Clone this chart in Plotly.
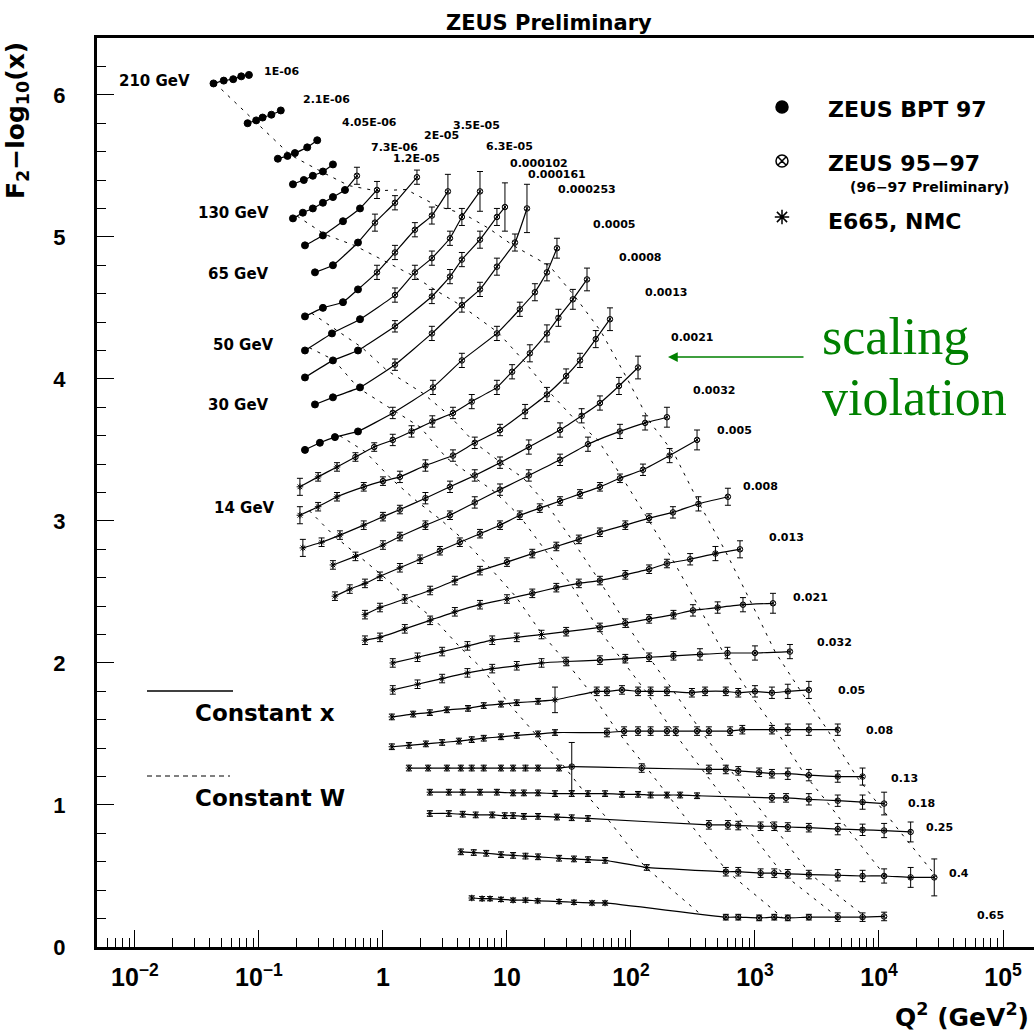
import numpy as np
import plotly.graph_objects as go

# ---------------- data ----------------
x_bins = ["1E-06", "2.1E-06", "4.05E-06", "7.3E-06", "1.2E-05", "2E-05", "3.5E-05",
          "6.3E-05", "0.000102", "0.000161", "0.000253", "0.0005", "0.0008", "0.0013",
          "0.0021", "0.0032", "0.005", "0.008", "0.013", "0.021", "0.032", "0.05",
          "0.08", "0.13", "0.18", "0.25", "0.4", "0.65"]

# B = ZEUS BPT 97, Z = ZEUS 95-97, E = E665/NMC ; e_* = error half-width
q2_b01 = [0.043, 0.052, 0.062, 0.072, 0.083]; y_b01 = [6.08, 6.10, 6.11, 6.13, 6.14]; s_b01 = "BBBBB"
q2_b02 = [0.081, 0.095, 0.107, 0.126, 0.150]; y_b02 = [5.80, 5.82, 5.84, 5.86, 5.89]; s_b02 = "BBBBB"
q2_b03 = [0.142, 0.170, 0.195, 0.245, 0.295]; y_b03 = [5.55, 5.57, 5.59, 5.63, 5.68]; s_b03 = "BBBBB"
q2_b04 = [0.188, 0.230, 0.272, 0.328, 0.395]; y_b04 = [5.37, 5.40, 5.43, 5.46, 5.51]; s_b04 = "BBBBB"
q2_b05 = [0.188, 0.226, 0.272, 0.328, 0.395, 0.494, 0.617]
y_b05 = [5.13, 5.17, 5.20, 5.24, 5.28, 5.33, 5.43]; s_b05 = "BBBBBBZ"
e_b05 = [0, 0, 0, 0, 0, 0, 0.06]
q2_b06 = [0.235, 0.328, 0.476, 0.653, 0.895]; y_b06 = [4.94, 5.01, 5.11, 5.20, 5.33]; s_b06 = "BBBBZ"
e_b06 = [0, 0, 0, 0, 0.06]
q2_b07 = [0.283, 0.395, 0.629, 0.862, 1.25, 1.88]; y_b07 = [4.75, 4.80, 4.96, 5.10, 5.24, 5.42]; s_b07 = "BBBZZZ"
e_b07 = [0, 0, 0, 0.06, 0.05, 0.05]
q2_b08 = [0.235, 0.328, 0.476, 0.629, 0.895, 1.25, 1.81, 2.48, 3.34]
y_b08 = [4.44, 4.50, 4.54, 4.63, 4.75, 4.89, 5.05, 5.15, 5.32]; s_b08 = "BBBBZZZZZ"
e_b08 = [0, 0, 0, 0, 0.05, 0.05, 0.05, 0.06, 0.12]
q2_b09 = [0.235, 0.388, 0.653, 1.25, 1.81, 2.48, 3.47, 4.33, 6.06]
y_b09 = [4.20, 4.32, 4.42, 4.59, 4.75, 4.85, 4.99, 5.14, 5.32]; s_b09 = "BBBZZZZZZ"
e_b09 = [0, 0, 0, 0.05, 0.05, 0.05, 0.05, 0.06, 0.14]
q2_b10 = [0.235, 0.395, 0.629, 1.25, 2.48, 3.47, 4.33, 6.06, 8.30, 9.63]
y_b10 = [4.01, 4.13, 4.20, 4.37, 4.58, 4.72, 4.84, 4.98, 5.14, 5.21]; s_b10 = "BBBZZZZZZZ"
e_b10 = [0, 0, 0, 0.04, 0.05, 0.05, 0.05, 0.06, 0.06, 0.17]
q2_b11 = [0.283, 0.395, 0.653, 1.25, 2.48, 4.33, 6.06, 8.30, 11.6, 14.5]
y_b11 = [3.82, 3.87, 3.94, 4.10, 4.32, 4.52, 4.63, 4.79, 4.96, 5.20]; s_b11 = "BBBZZZZZZZ"
e_b11 = [0, 0, 0, 0.04, 0.05, 0.05, 0.05, 0.06, 0.06, 0.17]
q2_b12 = [0.235, 0.31, 0.41, 0.629, 1.20, 2.53, 4.33, 8.30, 12.7, 16.8, 21.0, 25.3]
y_b12 = [3.50, 3.55, 3.59, 3.63, 3.76, 3.94, 4.13, 4.32, 4.49, 4.61, 4.75, 4.92]; s_b12 = "BBBBZZZZZZZZ"
e_b12 = [0, 0, 0, 0, 0.04, 0.05, 0.05, 0.05, 0.05, 0.06, 0.06, 0.07]
q2_b13 = [0.214, 0.30, 0.426, 0.60, 0.85, 1.20, 1.70, 2.50, 3.67, 5.20, 8.30, 11.0, 15.3, 21.0, 26.0, 34.0, 44.2]
y_b13 = [3.24, 3.31, 3.38, 3.45, 3.52, 3.57, 3.63, 3.70, 3.76, 3.84, 3.94, 4.05, 4.18, 4.32, 4.43, 4.56, 4.70]
s_b13 = "EEEZZZZZZZZZZZZZZ"
e_b13 = [0.06, 0.03, 0.03, 0.03, 0.03, 0.04, 0.04, 0.04, 0.04, 0.05, 0.05, 0.05, 0.06, 0.06, 0.06, 0.07, 0.08]
q2_b14 = [0.214, 0.30, 0.426, 0.70, 1.0, 1.37, 2.2, 3.67, 5.5, 8.79, 14, 21.0, 30, 38.8, 52, 67.7]
y_b14 = [3.04, 3.10, 3.17, 3.24, 3.28, 3.31, 3.39, 3.46, 3.55, 3.64, 3.77, 3.89, 4.02, 4.13, 4.28, 4.42]
s_b14 = "EEEZZZZZZZZZZZZZ"
e_b14 = [0.06, 0.03, 0.03, 0.03, 0.03, 0.04, 0.04, 0.04, 0.04, 0.04, 0.05, 0.05, 0.05, 0.05, 0.06, 0.08]
q2_b15 = [0.226, 0.32, 0.45, 0.70, 1.0, 1.37, 2.2, 3.47, 5.5, 8.79, 15, 26.8, 40, 56.2, 80, 114]
y_b15 = [2.81, 2.85, 2.90, 2.97, 3.03, 3.08, 3.16, 3.24, 3.32, 3.41, 3.52, 3.64, 3.74, 3.83, 3.95, 4.08]
s_b15 = "EEEEZZZZZZZZZZZZ"
e_b15 = [0.06, 0.03, 0.03, 0.03, 0.03, 0.03, 0.04, 0.04, 0.04, 0.04, 0.05, 0.05, 0.05, 0.05, 0.06, 0.08]
q2_b16 = [0.395, 0.6, 1.0, 1.37, 2.2, 3.47, 5.5, 8.79, 15, 26.8, 45, 81.5, 130, 195]
y_b16 = [2.69, 2.75, 2.83, 2.89, 2.97, 3.04, 3.13, 3.22, 3.32, 3.43, 3.54, 3.63, 3.69, 3.73]
s_b16 = "EEEZZZZZZZZZZZ"
e_b16 = [0.03, 0.03, 0.03, 0.03, 0.03, 0.03, 0.04, 0.04, 0.04, 0.04, 0.05, 0.05, 0.05, 0.07]
q2_b17 = [0.41, 0.54, 0.716, 0.946, 1.37, 1.99, 2.88, 4.17, 6.06, 8.79, 12.7, 18.4, 26.8, 38.8, 56.2, 81.5, 125, 205, 341]
y_b17 = [2.47, 2.52, 2.56, 2.61, 2.67, 2.73, 2.79, 2.85, 2.91, 2.97, 3.04, 3.09, 3.14, 3.19, 3.24, 3.30, 3.36, 3.46, 3.57]
s_b17 = "EEEEEEZZZZZZZZZZZZZ"
e_b17 = [0.03] * 16 + [0.04, 0.05, 0.07]
q2_b18 = [0.716, 0.946, 1.5, 2.4, 3.8, 6.06, 10, 16, 25, 38, 56.2, 90, 140, 218, 350, 605]
y_b18 = [2.34, 2.39, 2.45, 2.51, 2.58, 2.65, 2.71, 2.77, 2.82, 2.87, 2.92, 2.97, 3.02, 3.06, 3.12, 3.17]
s_b18 = "EEEEEEZZZZZZZZZZ"
e_b18 = [0.03] * 13 + [0.04, 0.05, 0.06]
q2_b19 = [0.716, 0.946, 1.5, 2.4, 3.8, 6.06, 10, 16, 25, 38, 56.2, 90, 140, 195, 300, 480, 757]
y_b19 = [2.16, 2.18, 2.24, 2.30, 2.36, 2.41, 2.45, 2.49, 2.53, 2.56, 2.58, 2.62, 2.66, 2.70, 2.73, 2.77, 2.80]
s_b19 = "EEEEEEEZZZZZZZZZZ"
e_b19 = [0.03] * 14 + [0.04, 0.05, 0.06]
q2_b20 = [1.20, 1.9, 3.0, 4.8, 7.6, 12, 19, 30, 56.2, 90, 140, 220, 316, 500, 800, 1397]
y_b20 = [2.00, 2.04, 2.08, 2.12, 2.16, 2.18, 2.20, 2.22, 2.25, 2.28, 2.31, 2.34, 2.37, 2.39, 2.41, 2.42]
s_b20 = "EEEEEEEZZZZZZZZZ"
e_b20 = [0.03] * 12 + [0.04, 0.04, 0.05, 0.07]
q2_b21 = [1.20, 1.9, 3.0, 4.8, 7.6, 12, 19, 30, 56.2, 90, 140, 220, 360, 600, 1000, 1914]
y_b21 = [1.81, 1.85, 1.89, 1.93, 1.96, 1.98, 2.00, 2.01, 2.02, 2.03, 2.04, 2.05, 2.06, 2.07, 2.07, 2.08]
s_b21 = "EEEEEEEZZZZZZZZZ"
e_b21 = [0.03] * 12 + [0.04, 0.04, 0.05, 0.05]
q2_b22 = [1.18, 1.75, 2.39, 3.28, 4.85, 6.5, 8.95, 12.0, 17.8, 24.4, 53, 64, 84.6, 114, 144,
          195, 310, 396, 582, 733, 1000, 1370, 1840, 2720]
y_b22 = [1.62, 1.64, 1.65, 1.67, 1.68, 1.70, 1.71, 1.72, 1.73, 1.74, 1.80, 1.80, 1.81, 1.80, 1.80,
         1.80, 1.79, 1.80, 1.80, 1.79, 1.80, 1.79, 1.80, 1.81]
s_b22 = "EEEEEEEEEEZZZZZZZZZZZZZZ"
e_b22 = [0.02] * 9 + [0.09] + [0.03] * 10 + [0.04, 0.04, 0.05, 0.06]
q2_b23 = [1.18, 1.62, 2.22, 3.0, 4.1, 5.2, 6.5, 8.95, 12.0, 17.8, 24.4, 64, 88, 114, 144, 195,
          230, 341, 425, 630, 790, 1370, 1840, 2720, 4650]
y_b23 = [1.41, 1.42, 1.43, 1.44, 1.45, 1.46, 1.47, 1.48, 1.49, 1.50, 1.51, 1.51, 1.52, 1.52, 1.52,
         1.52, 1.52, 1.52, 1.52, 1.52, 1.53, 1.53, 1.53, 1.53, 1.53]
s_b23 = "EEEEEEEEEEEZZZZZZZZZZZZZZ"
e_b23 = [0.02] * 11 + [0.03] * 10 + [0.03, 0.04, 0.04, 0.04]
q2_b24 = [1.62, 2.31, 3.28, 4.25, 5.2, 6.5, 8.95, 11.2, 14.1, 17.8, 26.3, 33.3, 122, 425, 582,
          733, 1080, 1370, 1840, 2720, 4650, 7370]
y_b24 = [1.26, 1.26, 1.26, 1.26, 1.26, 1.26, 1.26, 1.26, 1.26, 1.26, 1.26, 1.27, 1.26, 1.25, 1.25,
         1.24, 1.23, 1.22, 1.22, 1.21, 1.20, 1.20]
s_b24 = "EEEEEEEEEEEZZZZZZZZZZZ"
e_b24 = [0.02] * 11 + [0.17] + [0.03] * 6 + [0.04, 0.04, 0.04, 0.06]
q2_b25 = [2.39, 3.4, 4.4, 6.06, 8.3, 11.2, 13.7, 17.8, 24.4, 33.3, 45, 61.8, 84.6, 114, 144, 195,
          249, 341, 1370, 1780, 2720, 4650, 7370, 11000]
y_b25 = [1.09, 1.09, 1.09, 1.09, 1.09, 1.085, 1.085, 1.085, 1.08, 1.08, 1.08, 1.08, 1.075, 1.075,
         1.07, 1.07, 1.07, 1.065, 1.05, 1.05, 1.04, 1.03, 1.02, 1.01]
s_b25 = "EEEEEEEEEEEEEEEEEEZZZZZZ"
e_b25 = [0.02] * 18 + [0.03, 0.03, 0.04, 0.04, 0.05, 0.08]
q2_b26 = [2.39, 3.4, 4.4, 5.6, 7.6, 9.6, 11.2, 13.7, 17.8, 25.3, 33.3, 45, 425, 605, 733, 1110,
          1430, 1840, 2720, 4650, 7370, 11000, 18000]
y_b26 = [0.94, 0.94, 0.935, 0.93, 0.93, 0.925, 0.925, 0.92, 0.92, 0.915, 0.91, 0.905, 0.86, 0.86,
         0.855, 0.85, 0.85, 0.845, 0.84, 0.83, 0.825, 0.82, 0.81]
s_b26 = "EEEEEEEEEEEEZZZZZZZZZZZ"
e_b26 = [0.02] * 12 + [0.03] * 7 + [0.04, 0.04, 0.05, 0.07]
q2_b27 = [4.25, 5.4, 6.8, 8.95, 11.2, 14.1, 17.8, 26.3, 34.7, 45, 61.8, 134, 582, 733, 1110,
          1430, 1840, 2720, 4650, 7370, 11000, 18000, 27900]
y_b27 = [0.67, 0.665, 0.66, 0.65, 0.645, 0.64, 0.635, 0.625, 0.62, 0.615, 0.61, 0.56, 0.53, 0.53,
         0.52, 0.52, 0.515, 0.51, 0.505, 0.50, 0.50, 0.49, 0.49]
s_b27 = "EEEEEEEEEEEEZZZZZZZZZZZ"
e_b27 = [0.02] * 12 + [0.03] * 6 + [0.04, 0.04, 0.05, 0.07, 0.13]
q2_b28 = [5.2, 6.3, 7.3, 8.95, 11.2, 14.1, 17.7, 26.3, 34.7, 48.5, 61.8, 582, 733, 1080, 1430,
          1840, 2720, 4650, 7370, 11000]
y_b28 = [0.345, 0.34, 0.34, 0.335, 0.33, 0.33, 0.325, 0.32, 0.315, 0.31, 0.31, 0.21, 0.21, 0.205,
         0.21, 0.205, 0.21, 0.21, 0.21, 0.215]
s_b28 = "EEEEEEEEEEEZZZZZZZZZ"
e_b28 = [0.015] * 11 + [0.02] * 6 + [0.03, 0.03, 0.03]

# constant-W values (GeV) from the labels
w_values = [210, 130, 65, 50, 30, 14]

bins_q2 = [q2_b01, q2_b02, q2_b03, q2_b04, q2_b05, q2_b06, q2_b07, q2_b08, q2_b09, q2_b10,
           q2_b11, q2_b12, q2_b13, q2_b14, q2_b15, q2_b16, q2_b17, q2_b18, q2_b19, q2_b20,
           q2_b21, q2_b22, q2_b23, q2_b24, q2_b25, q2_b26, q2_b27, q2_b28]
bins_y = [y_b01, y_b02, y_b03, y_b04, y_b05, y_b06, y_b07, y_b08, y_b09, y_b10,
          y_b11, y_b12, y_b13, y_b14, y_b15, y_b16, y_b17, y_b18, y_b19, y_b20,
          y_b21, y_b22, y_b23, y_b24, y_b25, y_b26, y_b27, y_b28]
bins_s = [s_b01, s_b02, s_b03, s_b04, s_b05, s_b06, s_b07, s_b08, s_b09, s_b10,
          s_b11, s_b12, s_b13, s_b14, s_b15, s_b16, s_b17, s_b18, s_b19, s_b20,
          s_b21, s_b22, s_b23, s_b24, s_b25, s_b26, s_b27, s_b28]
bins_e = [[0] * 5, [0] * 5, [0] * 5, [0] * 5, e_b05, e_b06, e_b07, e_b08, e_b09, e_b10,
          e_b11, e_b12, e_b13, e_b14, e_b15, e_b16, e_b17, e_b18, e_b19, e_b20,
          e_b21, e_b22, e_b23, e_b24, e_b25, e_b26, e_b27, e_b28]

# ---------------- layout helpers (pixel -> paper) ----------------
PW, PH, L, T = 937, 909, 97, 38
def px(xp): return (xp - L) / PW
def py(yp): return (T + PH - yp) / PH

# text positions (pixel centres)
xlab_px = [(281, 72), (326, 99), (369, 122), (394, 148), (416, 158), (441, 135), (476, 125),
           (509, 147), (539, 163), (557, 175), (587, 190), (614, 224), (640, 257), (666, 293),
           (692, 337), (714, 390), (734, 430), (760, 486), (786, 537), (810, 597), (834, 642),
           (851, 690), (879, 730), (904, 778), (921, 803), (939, 827), (959, 873), (990, 915)]
wlab_px = [(154, 81), (233, 213), (238, 274), (243, 345), (238, 405), (244, 508)]

fig = go.Figure()
BLACK = "black"
SANS = "DejaVu Sans"

# constant-W dashed lines: where Q2 = x W^2/(1-x) meets each x-bin curve
for W in w_values:
    wx, wy = [], []
    for lab, q, yv in zip(x_bins, bins_q2, bins_y):
        xv = float(lab)
        q2w = xv * W * W / (1 - xv)
        lq = np.log10(q)
        if lq[0] - 0.03 <= np.log10(q2w) <= lq[-1] + 0.03:
            wx.append(q2w)
            wy.append(float(np.interp(np.log10(q2w), lq, yv)))
    fig.add_trace(go.Scatter(x=wx, y=wy, mode="lines",
                             line=dict(color=BLACK, width=1, dash="3px,6px")))

# constant-x curves
for q, yv in zip(bins_q2, bins_y):
    fig.add_trace(go.Scatter(x=q, y=yv, mode="lines",
                             line=dict(color=BLACK, width=1.2, shape="spline", smoothing=0.4)))

# data points
sym = {"B": "circle", "Z": "circle-x-open", "E": "asterisk-open"}
msize = {"B": 7, "Z": 5.5, "E": 5.5}
for q, yv, s, e in zip(bins_q2, bins_y, bins_s, bins_e):
    for k in "BZE":
        idx = [i for i, c in enumerate(s) if c == k]
        if not idx:
            continue
        fig.add_trace(go.Scatter(
            x=[q[i] for i in idx], y=[yv[i] for i in idx], mode="markers",
            marker=dict(symbol=sym[k], size=msize[k], color=BLACK,
                        line=dict(color=BLACK, width=1.0)),
            error_y=dict(type="data", array=[e[i] for i in idx], color=BLACK,
                         thickness=1.0, width=3, visible=(k != "B"))))

# ---------------- annotations ----------------
ann = []
for lab, (xp, yp) in zip(x_bins, xlab_px):
    ann.append(dict(x=px(xp), y=py(yp), xref="paper", yref="paper", text=lab, showarrow=False,
                    xanchor="center", yanchor="middle",
                    font=dict(family=SANS, size=11, color=BLACK, weight="bold")))
for W, (xp, yp) in zip(w_values, wlab_px):
    ann.append(dict(x=px(xp), y=py(yp), xref="paper", yref="paper", text=f"{W} GeV",
                    showarrow=False, xanchor="center", yanchor="middle",
                    font=dict(family=SANS, size=15, color=BLACK, weight="bold")))

def txt(xp, yp, text, size, xanchor="center", family=SANS, color=BLACK, weight="bold", angle=0):
    return dict(x=px(xp), y=py(yp), xref="paper", yref="paper", text=text, showarrow=False,
                xanchor=xanchor, yanchor="middle", textangle=angle,
                font=dict(family=family, size=size, color=color, weight=weight))

ann += [
    txt(549, 23, "ZEUS Preliminary", 21),
    txt(17, 121, "F<sub>2</sub>−log<sub>10</sub>(x)", 25, angle=-90),
    txt(962, 1015, "Q<sup>2</sup> (GeV<sup>2</sup>)", 25),
    txt(826, 110, "ZEUS BPT 97", 22, "left"),
    txt(826, 163, "ZEUS 95−97", 22, "left"),
    txt(929, 187, "(96−97 Preliminary)", 14),
    txt(826, 221, "E665, NMC", 22, "left"),
    txt(193, 713, "Constant x", 23, "left"),
    txt(193, 798, "Constant W", 23, "left"),
    txt(820, 336, "scaling", 52, "left", "Liberation Serif", "#008000", "normal"),
    txt(820, 397, "violation", 52, "left", "Liberation Serif", "#008000", "normal"),
    dict(x=px(668), y=py(357), ax=137, ay=0, xref="paper", yref="paper",
         axref="pixel", ayref="pixel", text="", showarrow=True, arrowhead=2, arrowsize=1.3,
         arrowwidth=1.5, arrowcolor="#008000"),
]

shapes = [
    dict(type="line", xref="paper", yref="paper", x0=px(147), x1=px(233), y0=py(691), y1=py(691),
         line=dict(color=BLACK, width=1.3)),
    dict(type="line", xref="paper", yref="paper", x0=px(147), x1=px(230), y0=py(776), y1=py(776),
         line=dict(color=BLACK, width=1, dash="5px,4px")),
]

# legend symbols on an overlay axis spanning the plot area
for yp, sy in zip([107, 161, 217], ["circle", "circle-x-open", "asterisk-open"]):
    fig.add_trace(go.Scatter(x=[px(782)], y=[py(yp)], xaxis="x2", yaxis="y2", mode="markers",
                             marker=dict(symbol=sy, size=12, color=BLACK,
                                         line=dict(color=BLACK, width=1.5))))

decades = [1e-2, 1e-1, 1, 10, 1e2, 1e3, 1e4, 1e5]
ticktext = ["10<sup>−2</sup>", "10<sup>−1</sup>", "1", "10", "10<sup>2</sup>",
            "10<sup>3</sup>", "10<sup>4</sup>", "10<sup>5</sup>"]
minor_vals = [m * d for d in [1e-3] + decades for m in range(2, 10)]

fig.update_layout(
    width=1034, height=1036,
    margin=dict(l=L, r=1034 - L - PW, t=T, b=1036 - T - PH),
    paper_bgcolor="white", plot_bgcolor="white",
    showlegend=False, hovermode=False,
    annotations=ann, shapes=shapes,
    xaxis=dict(type="log", range=[-2.306, 5.25], tickvals=decades, ticktext=ticktext,
               ticks="inside", ticklen=17, tickwidth=1.3, tickcolor=BLACK,
               minor=dict(tickmode="array", tickvals=minor_vals, ticks="inside", ticklen=9,
                          tickwidth=1.1, tickcolor=BLACK, showgrid=False),
               showline=True, linewidth=3, linecolor=BLACK, mirror=True,
               showgrid=False, zeroline=False, ticklabelstandoff=6,
               tickfont=dict(family="Liberation Sans", size=25, color=BLACK, weight="bold")),
    yaxis=dict(range=[0, 6.4], tickvals=[0, 1, 2, 3, 4, 5, 6],
               ticks="inside", ticklen=17, tickwidth=1.3, tickcolor=BLACK,
               minor=dict(dtick=0.2, ticks="inside", ticklen=9, tickwidth=1.1,
                          tickcolor=BLACK, showgrid=False),
               showline=True, linewidth=3, linecolor=BLACK,
               showgrid=False, zeroline=False, ticklabelstandoff=24,
               tickfont=dict(family="Liberation Sans", size=22, color=BLACK, weight="bold")),
    xaxis2=dict(overlaying="x", range=[0, 1], visible=False),
    yaxis2=dict(overlaying="y", range=[0, 1], visible=False),
)

fig.write_html("out.html")
